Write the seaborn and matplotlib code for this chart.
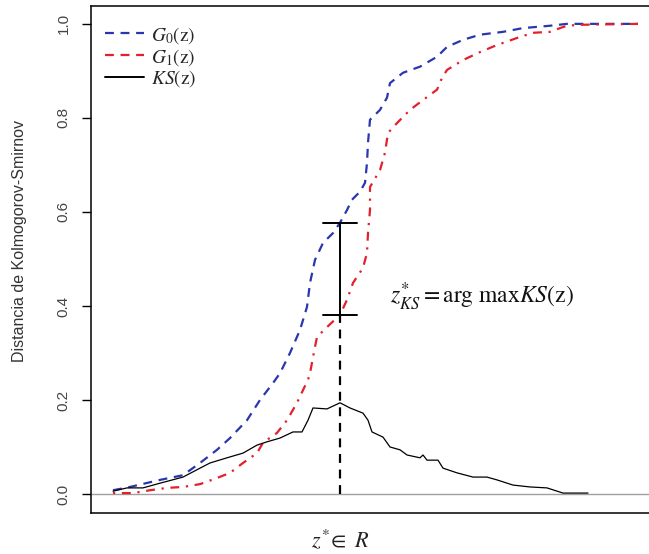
import numpy as np
import pandas as pd
import matplotlib
matplotlib.use("Agg")
import matplotlib.pyplot as plt
from matplotlib.lines import Line2D
import seaborn as sns

# ---- data (z on an arbitrary score scale) ----
g0_z = [0, 17, 47, 70, 87, 104, 117, 134, 147, 160, 167, 177, 187, 194, 197, 202,
        210, 220, 227, 234, 239, 247, 252, 254, 255, 257, 267, 274, 277, 290, 307,
        324, 334, 350, 367, 390, 410, 437, 454, 525]
g0_v = [0.008, 0.015, 0.030, 0.040, 0.066, 0.094, 0.119, 0.157, 0.200, 0.236, 0.257,
        0.300, 0.349, 0.398, 0.449, 0.498, 0.534, 0.555, 0.577, 0.604, 0.626, 0.643,
        0.662, 0.704, 0.747, 0.796, 0.817, 0.843, 0.874, 0.896, 0.909, 0.930, 0.951,
        0.966, 0.977, 0.983, 0.991, 0.996, 1.000, 1.000]

g1_z = [0, 20, 37, 54, 70, 87, 104, 117, 130, 144, 150, 164, 174, 184, 190, 195, 197,
        202, 204, 214, 227, 234, 240, 250, 254, 255, 257, 257, 267, 272, 275, 284, 297,
        310, 324, 329, 334, 350, 367, 384, 404, 420, 437, 447, 454, 467, 525]
g1_v = [0.002, 0.002, 0.008, 0.013, 0.015, 0.021, 0.034, 0.045, 0.066, 0.087, 0.109,
        0.130, 0.157, 0.194, 0.221, 0.243, 0.257, 0.313, 0.334, 0.355, 0.381, 0.413,
        0.449, 0.481, 0.513, 0.555, 0.604, 0.653, 0.689, 0.726, 0.768, 0.789, 0.817,
        0.838, 0.860, 0.885, 0.902, 0.923, 0.940, 0.955, 0.970, 0.981, 0.983, 0.991,
        0.996, 0.998, 1.000]

ks_z = [0, 14, 30, 47, 70, 87, 97, 114, 130, 144, 154, 167, 180, 189, 195, 200, 214,
        227, 237, 250, 255, 259, 270, 277, 287, 294, 307, 310, 314, 325, 330, 344, 360,
        374, 384, 400, 417, 434, 450, 464, 475]
ks_v = [0.006, 0.013, 0.013, 0.023, 0.036, 0.055, 0.066, 0.077, 0.087, 0.104, 0.111,
        0.119, 0.132, 0.132, 0.157, 0.183, 0.181, 0.194, 0.183, 0.172, 0.157, 0.132,
        0.121, 0.100, 0.094, 0.083, 0.077, 0.083, 0.072, 0.072, 0.055, 0.045, 0.036,
        0.036, 0.030, 0.019, 0.015, 0.013, 0.002, 0.002, 0.002]

y_ticks = [0.0, 0.2, 0.4, 0.6, 0.8, 1.0]
y_tick_labels = ["0.0", "0.2", "0.4", "0.6", "0.8", "1.0"]
legend_labels = [r"$G_0(\mathrm{z})$", r"$G_1(\mathrm{z})$", r"$KS(\mathrm{z})$"]
y_label = "Distancia de Kolmogorov-Smirnov"
x_label = r"$z^{*}\!\in\ R$"
annot = r"$z^{*}_{KS}{=}\mathrm{arg\ max}KS(\mathrm{z})$"

# ---- style ----
sns.set_style("white")
plt.rcParams["font.family"] = ["Liberation Sans", "DejaVu Sans"]
plt.rcParams["mathtext.fontset"] = "stix"

W, H = 649, 554
fig = plt.figure(figsize=(W / 100, H / 100), dpi=100)
ax = fig.add_axes([91 / W, 41 / H, 568 / W, 507 / H])

BLUE = "#2a36b0"
RED = "#e3202b"

df0 = pd.DataFrame({"z": g0_z, "v": g0_v})
df1 = pd.DataFrame({"z": g1_z, "v": g1_v})
dfk = pd.DataFrame({"z": ks_z, "v": ks_v})

# zero reference line
ax.axhline(0, color="#a0a0a0", lw=1.0, zorder=1)

sns.lineplot(data=df0, x="z", y="v", ax=ax, color=BLUE, lw=1.6,
             estimator=None, sort=False, dashes=False, zorder=3)
ax.lines[-1].set_dashes((4, 3))
sns.lineplot(data=df1, x="z", y="v", ax=ax, color=RED, lw=1.6,
             estimator=None, sort=False, dashes=False, zorder=3)
ax.lines[-1].set_dashes((1, 3, 4, 3))
sns.lineplot(data=dfk, x="z", y="v", ax=ax, color="black", lw=0.9,
             estimator=None, sort=False, zorder=4)

# KS maximum
i_star = int(np.argmax(ks_v))
z_star = ks_z[i_star]
g0_star = float(np.interp(z_star, g0_z, g0_v))
g1_star = float(np.interp(z_star, g1_z, g1_v))
ax.plot([z_star, z_star], [0, g1_star], color="black", lw=1.6,
        dashes=(4, 3), zorder=5)
ax.plot([z_star, z_star], [g1_star, g0_star], color="black", lw=1.4, zorder=5)
cap = 17
for yv in (g1_star, g0_star):
    ax.plot([z_star - cap, z_star + cap], [yv, yv], color="black", lw=1.4, zorder=5)

ax.text(z_star + 50, (g0_star + g1_star) / 2 - 0.06, annot, fontsize=17,
        ha="left", va="center", color="#111111")

ax.set_xlim(-22, 546)
ax.set_ylim(-0.0404, 1.038)
ax.set_xticks([])
ax.set_yticks(y_ticks)
ax.set_yticklabels(y_tick_labels, rotation=90, va="center", fontsize=11)
ax.tick_params(axis="y", length=6.5, width=1.0, pad=8, colors="black",
               labelcolor="#444444", left=True)
ax.set_xlabel("")
ax.set_ylabel("")
for s in ["left", "top", "bottom"]:
    ax.spines[s].set_color("black")
    ax.spines[s].set_linewidth(1.1)
ax.spines["right"].set_visible(False)

handles = [Line2D([], [], color=BLUE, lw=1.6, dashes=(4, 3)),
           Line2D([], [], color=RED, lw=1.6, dashes=(4, 3)),
           Line2D([], [], color="black", lw=1.4)]
ax.legend(handles, legend_labels, loc="upper left", frameon=False,
          fontsize=14, handlelength=2.0, handletextpad=0.4,
          labelspacing=0.05, borderaxespad=0.3,
          bbox_to_anchor=(0.0, 0.99))

fig.text(20 / W, 1 - 241 / H, y_label, rotation=90, ha="center", va="center",
         fontsize=11.5, color="#333333")
fig.text(340 / W, 1 - 540 / H, x_label, ha="center", va="center",
         fontsize=16, color="#222222")

fig.savefig("out.png", dpi=100)
